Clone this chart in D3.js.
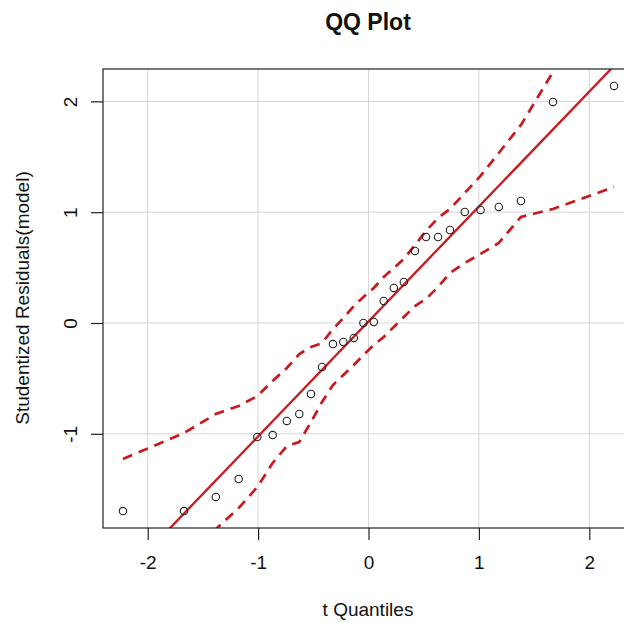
<!DOCTYPE html>
<html>
<head>
<meta charset="utf-8">
<script src="https://cdn.jsdelivr.net/npm/d3@7"></script>
<style>
  html, body { margin: 0; padding: 0; background: #fff; }
  svg { display: block; font-family: "Liberation Sans", Arial, sans-serif; }
</style>
</head>
<body>
<svg id="chart" width="624" height="623"></svg>
<script>
// Theoretical t quantiles (x) and studentized residuals (y)
const tQuantiles = [-2.224, -1.671, -1.383, -1.176, -1.007, -0.868, -0.740, -0.627, -0.521, -0.421,
                    -0.322, -0.228, -0.133, -0.046, 0.048, 0.138, 0.229, 0.320, 0.421, 0.521,
                    0.630, 0.738, 0.872, 1.015, 1.180, 1.381, 1.671, 2.224];
const residuals = [-1.697, -1.697, -1.570, -1.408, -1.029, -1.011, -0.884, -0.821, -0.641, -0.397,
                   -0.190, -0.171, -0.135, 0.000, 0.009, 0.199, 0.316, 0.370, 0.650, 0.776,
                   0.776, 0.839, 1.002, 1.020, 1.047, 1.101, 1.995, 2.139];
// Simulated confidence envelope at each quantile
const upperBand = [-1.227, -0.993, -0.821, -0.749, -0.659, -0.523, -0.406, -0.280, -0.217, -0.181,
                   -0.054, 0.045, 0.153, 0.235, 0.316, 0.415, 0.496, 0.578, 0.704, 0.830,
                   0.948, 1.029, 1.173, 1.327, 1.534, 1.787, 2.265, 3.410];
const lowerBand = [-3.360, -2.450, -1.860, -1.670, -1.480, -1.263, -1.110, -1.074, -0.894, -0.713,
                   -0.560, -0.469, -0.379, -0.289, -0.199, -0.126, -0.036, 0.054, 0.153, 0.217,
                   0.325, 0.451, 0.542, 0.623, 0.722, 0.957, 1.029, 1.227];
// Robust reference line: y = intercept + slope * x
const lineIntercept = 0.014;
const lineSlope = 1.037;
const xTicks = [-2, -1, 0, 1, 2];
const yTicks = [-1, 0, 1, 2];

const svg = d3.select("#chart");
const plotLeft = 103, plotTop = 69, plotBottom = 528, plotRight = 634;
const red = "#c81a1e";

const x = d3.scaleLinear().domain([-2.405, 2.405]).range([plotLeft, plotRight]);
const y = d3.scaleLinear().domain([-1.850, 2.292]).range([plotBottom, plotTop]);

svg.append("rect").attr("width", 624).attr("height", 623).attr("fill", "#fff");

svg.append("defs").append("clipPath").attr("id", "plotClip")
  .append("rect").attr("x", plotLeft).attr("y", plotTop)
  .attr("width", plotRight - plotLeft).attr("height", plotBottom - plotTop);

// grid
const grid = svg.append("g").attr("stroke", "#d6d6d6").attr("stroke-width", 1);
grid.selectAll("line.gx").data(xTicks).join("line").attr("class", "gx")
  .attr("x1", d => x(d)).attr("x2", d => x(d))
  .attr("y1", plotTop).attr("y2", plotBottom);
grid.selectAll("line.gy").data(yTicks).join("line").attr("class", "gy")
  .attr("x1", plotLeft).attr("x2", plotRight)
  .attr("y1", d => y(d)).attr("y2", d => y(d));

const plot = svg.append("g").attr("clip-path", "url(#plotClip)");

// reference line
const [x0, x1] = x.domain();
plot.append("line")
  .attr("x1", x(x0)).attr("y1", y(lineIntercept + lineSlope * x0))
  .attr("x2", x(x1)).attr("y2", y(lineIntercept + lineSlope * x1))
  .attr("stroke", red).attr("stroke-width", 2.3);

// envelope
const band = d3.line().x(d => x(d[0])).y(d => y(d[1]));
[upperBand, lowerBand].forEach(b => {
  plot.append("path")
    .datum(tQuantiles.map((q, i) => [q, b[i]]))
    .attr("d", band)
    .attr("fill", "none")
    .attr("stroke", red)
    .attr("stroke-width", 2.7)
    .attr("stroke-dasharray", "10,7");
});

// points
plot.selectAll("circle").data(tQuantiles).join("circle")
  .attr("cx", d => x(d))
  .attr("cy", (d, i) => y(residuals[i]))
  .attr("r", 3.7)
  .attr("fill", "none")
  .attr("stroke", "#222")
  .attr("stroke-width", 1.1);

// frame
svg.append("rect").attr("x", plotLeft).attr("y", plotTop)
  .attr("width", plotRight - plotLeft).attr("height", plotBottom - plotTop)
  .attr("fill", "none").attr("stroke", "#222").attr("stroke-width", 1.2);

const fmt = d => d < 0 ? "-" + Math.abs(d) : String(d);

// axes
const xAxis = d3.axisBottom(x).tickValues(xTicks).tickSize(12).tickPadding(16).tickFormat(fmt);
const gx = svg.append("g").attr("transform", `translate(0,${plotBottom})`).call(xAxis);
gx.select(".domain").remove();
gx.selectAll(".tick line").attr("stroke", "#222").attr("stroke-width", 1.2);
gx.selectAll(".tick text").attr("font-size", 19).attr("fill", "#111")
  .attr("font-family", "Liberation Sans, Arial, sans-serif");

const yAxis = d3.axisLeft(y).tickValues(yTicks).tickSize(12).tickFormat(fmt);
const gy = svg.append("g").attr("transform", `translate(${plotLeft},0)`).call(yAxis);
gy.select(".domain").remove();
gy.selectAll(".tick line").attr("stroke", "#222").attr("stroke-width", 1.2);
gy.selectAll(".tick text")
  .attr("x", null).attr("dy", null)
  .attr("transform", "translate(-33,0) rotate(-90)")
  .attr("text-anchor", "middle")
  .attr("dominant-baseline", "central")
  .attr("font-size", 19).attr("fill", "#111")
  .attr("font-family", "Liberation Sans, Arial, sans-serif");

// titles
svg.append("text").attr("x", 368).attr("y", 30).attr("text-anchor", "middle")
  .attr("font-size", 23).attr("font-weight", "bold").attr("fill", "#111")
  .text("QQ Plot");
svg.append("text").attr("x", 368).attr("y", 616).attr("text-anchor", "middle")
  .attr("font-size", 19).attr("fill", "#111").text("t Quantiles");
svg.append("text").attr("transform", "translate(29,298) rotate(-90)")
  .attr("text-anchor", "middle")
  .attr("font-size", 19).attr("fill", "#111").text("Studentized Residuals(model)");
</script>
</body>
</html>
